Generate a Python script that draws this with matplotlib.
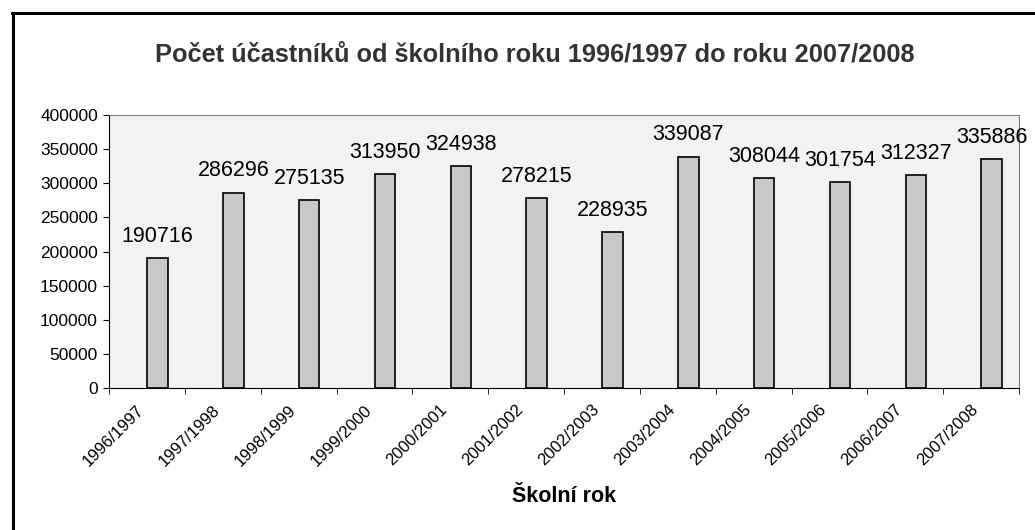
import matplotlib.pyplot as plt
from matplotlib.lines import Line2D
import numpy as np

plt.rcParams['font.family'] = ['Liberation Sans', 'DejaVu Sans']

years = ["1996/1997", "1997/1998", "1998/1999", "1999/2000", "2000/2001", "2001/2002",
         "2002/2003", "2003/2004", "2004/2005", "2005/2006", "2006/2007", "2007/2008"]
counts = [190716, 286296, 275135, 313950, 324938, 278215,
          228935, 339087, 308044, 301754, 312327, 335886]

fig = plt.figure(figsize=(10.35, 5.30), dpi=100)
ax = fig.add_axes([109 / 1035, 1 - 388 / 530, 910 / 1035, 273 / 530])
ax.set_facecolor('#f2f2f2')

x = np.arange(len(years))
# bars sit a little right of the category centre, as in the original
bx = x + 0.14
ax.bar(bx, counts, width=0.27, color='#c8c8c8', edgecolor='black', linewidth=1.2)

for xi, v in zip(bx, counts):
    ax.annotate(str(v), (xi, v), xytext=(0, 8), textcoords='offset points',
                ha='center', va='bottom', fontsize=15.5)

ax.set_xlim(-0.5, len(years) - 0.5)
ax.set_ylim(0, 400000)
ax.set_yticks(np.arange(0, 400001, 50000))
ax.tick_params(axis='y', labelsize=12.5, length=4, direction='out', pad=4)

ax.set_xticks(x - 0.07)
ax.set_xticklabels(years, rotation=45, ha='right', va='center', rotation_mode='anchor', fontsize=12)
ax.tick_params(axis='x', length=0, pad=14)
ax.set_xticks(np.arange(-0.5, len(years), 1), minor=True)
ax.tick_params(axis='x', which='minor', length=4, direction='out')

for s in ['top', 'right']:
    ax.spines[s].set_color('#808080')
for s in ['left', 'bottom']:
    ax.spines[s].set_color('black')

fig.text(535 / 1035, 1 - 55 / 530, "Počet účastníků od školního roku 1996/1997 do roku 2007/2008",
         ha='center', va='center', fontsize=18.3, fontweight='bold', color='#333333')
fig.text(564 / 1035, 1 - 497 / 530, "Školní rok", ha='center', va='center',
         fontsize=15.5, fontweight='bold')

fig.add_artist(Line2D([13 / 1035, 13 / 1035], [0, 1 - 13 / 530], color='black', linewidth=2.2))
fig.add_artist(Line2D([12 / 1035, 1], [1 - 13 / 530, 1 - 13 / 530], color='black', linewidth=2.2))

fig.savefig('out.png', dpi=100)
